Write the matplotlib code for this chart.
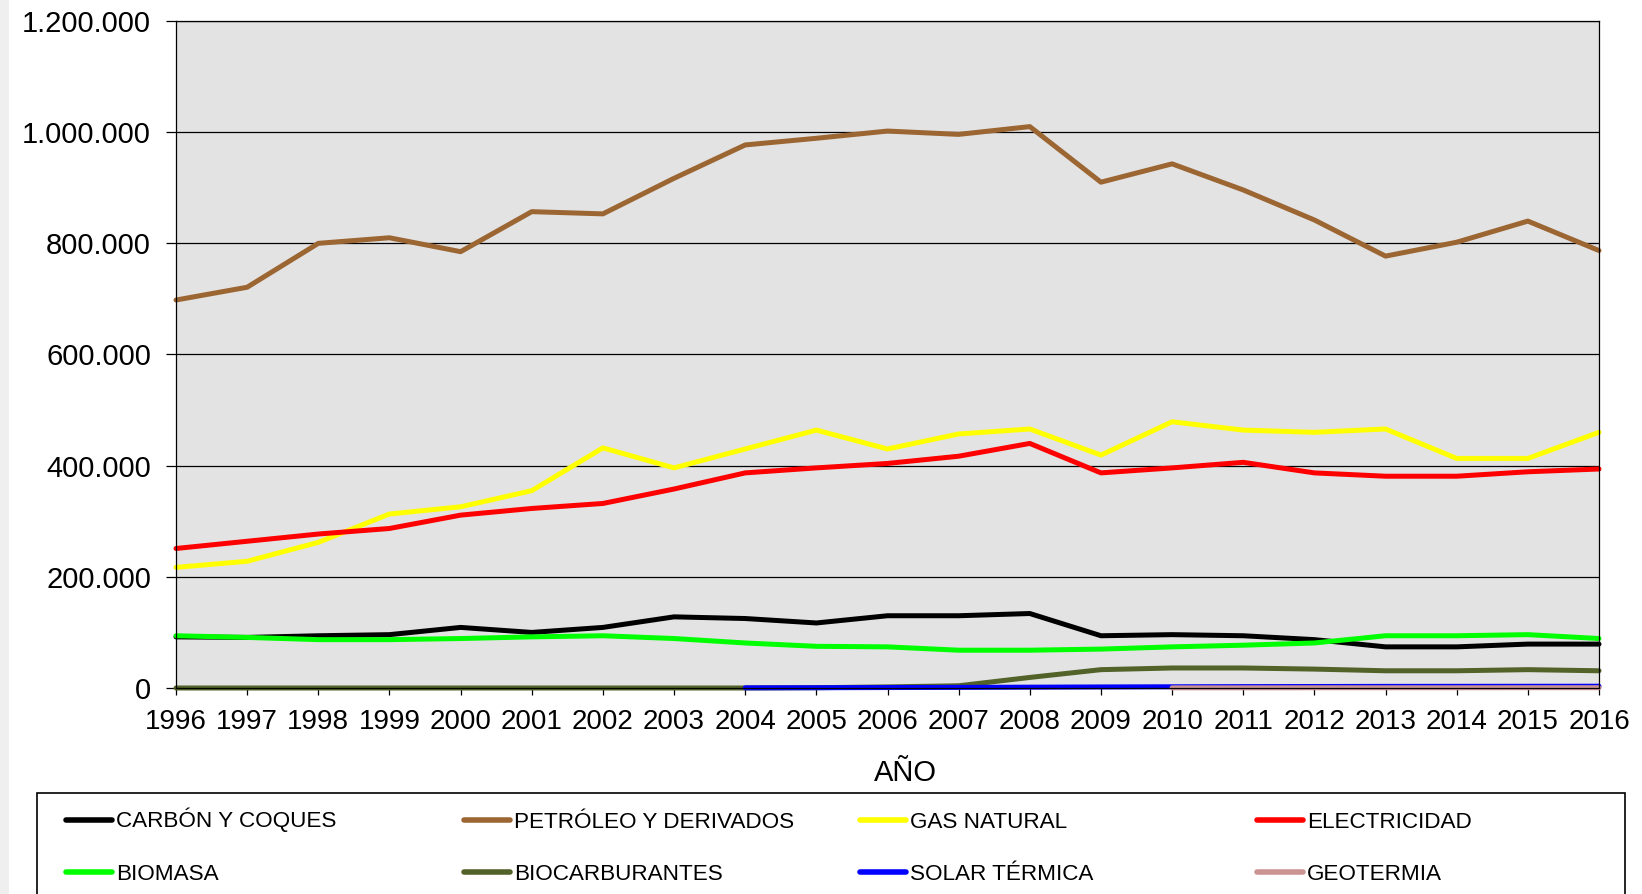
import numpy as np
import matplotlib
matplotlib.use("Agg")
from matplotlib import pyplot as plt
from matplotlib.ticker import FuncFormatter, MultipleLocator
from matplotlib.patches import Rectangle
from matplotlib.lines import Line2D

plt.rcParams['font.family'] = ['Liberation Sans', 'DejaVu Sans']

# data
years = list(range(1996, 2017))
nan = np.nan

carbon = [92000, 91000, 94000, 96000, 109000, 100000, 109000, 128000, 125000, 117000,
          130000, 130000, 134000, 94000, 96000, 94000, 87000, 74000, 74000, 79000, 79000]
petroleo = [698000, 721000, 800000, 810000, 785000, 857000, 853000, 917000, 977000, 989000,
            1002000, 996000, 1010000, 910000, 943000, 896000, 842000, 777000, 802000, 840000, 787000]
gas_natural = [217000, 228000, 262000, 313000, 326000, 355000, 432000, 396000, 430000, 464000,
               430000, 457000, 466000, 419000, 479000, 464000, 460000, 466000, 413000, 413000, 460000]
electricidad = [251000, 264000, 277000, 287000, 311000, 323000, 332000, 358000, 387000, 396000,
                404000, 417000, 440000, 387000, 396000, 406000, 387000, 381000, 381000, 389000, 394000]
biomasa = [94000, 91000, 87000, 87000, 89000, 92000, 94000, 89000, 81000, 75000,
           74000, 68000, 68000, 70000, 74000, 77000, 81000, 94000, 94000, 96000, 89000]
biocarburantes = [0, 0, 0, 0, 0, 0, 0, 0, 0, 500,
                  2000, 4000, 19000, 33000, 36000, 36000, 34000, 31000, 31000, 33000, 31000]
solar_termica = [nan, nan, nan, nan, nan, nan, nan, nan, 300, 500,
                 800, 1100, 1500, 1900, 2200, 2500, 2700, 2900, 3000, 3100, 3200]
geotermia = [nan, nan, nan, nan, nan, nan, nan, nan, nan, nan,
             nan, nan, nan, nan, 300, 300, 400, 400, 400, 500, 500]

labels = ["CARBÓN Y COQUES", "PETRÓLEO Y DERIVADOS", "GAS NATURAL", "ELECTRICIDAD",
          "BIOMASA", "BIOCARBURANTES", "SOLAR TÉRMICA", "GEOTERMIA"]
series = [carbon, petroleo, gas_natural, electricidad,
          biomasa, biocarburantes, solar_termica, geotermia]
colors = ["#000000", "#9C6633", "#FFFF00", "#FF0000",
          "#00FF00", "#526229", "#0000FF", "#CC9393"]

W, H = 1642, 894
fig = plt.figure(figsize=(W / 100, H / 100), dpi=100)
fig.patches.append(Rectangle((0, 0), 9 / W, 1, transform=fig.transFigure,
                             facecolor="#EFEFEF", edgecolor="none"))

ax = fig.add_axes([176 / W, 1 - 688 / H, (1599 - 176) / W, (688 - 21) / H])
ax.set_facecolor("#E3E3E3")

lines = []
for vals, lab, col in zip(series, labels, colors):
    ln, = ax.plot(years, vals, color=col, lw=3.6, label=lab,
                  solid_capstyle="round", solid_joinstyle="round", clip_on=False)
    lines.append(ln)

ax.set_xlim(1996, 2016)
ax.set_ylim(0, 1200000)
ax.yaxis.set_major_locator(MultipleLocator(200000))
ax.yaxis.set_major_formatter(FuncFormatter(lambda v, p: f"{v:,.0f}".replace(",", ".")))
ax.set_xticks(years)
ax.grid(axis="y", color="black", lw=0.9)
ax.set_axisbelow(True)
for s in ax.spines.values():
    s.set_color("black")
    s.set_linewidth(0.9)

ax.tick_params(axis="y", direction="out", length=7, width=0.9, pad=11, labelsize=21)
ax.tick_params(axis="x", direction="out", length=5, width=0.9, pad=10, labelsize=20)

ax.set_xlabel("AÑO", fontsize=21)
ax.xaxis.set_label_coords((905 - 176) / (1599 - 176), (688 - 773) / (688 - 21))
ax.xaxis.label.set_va("center")

# legend: framed box with 4 columns x 2 rows, drawn in figure pixels
fig.patches.append(Rectangle((37 / W, -0.05), (1625 - 37) / W, 1 - 793 / H + 0.05,
                             transform=fig.transFigure, facecolor="white",
                             edgecolor="black", lw=1.2))
col_x = [66, 464, 860, 1257]
row_y = [820, 872]
for i, ln in enumerate(lines):
    x = col_x[i % 4]
    y = row_y[i // 4]
    fig.lines.append(Line2D([x / W, (x + 46) / W], [1 - y / H, 1 - y / H],
                            transform=fig.transFigure, color=ln.get_color(),
                            lw=4, solid_capstyle="round"))
    fig.text((x + 50) / W, 1 - (y + 7.5) / H, ln.get_label(), fontsize=16.2,
             ha="left", va="baseline")

fig.savefig("out.png", dpi=100)
